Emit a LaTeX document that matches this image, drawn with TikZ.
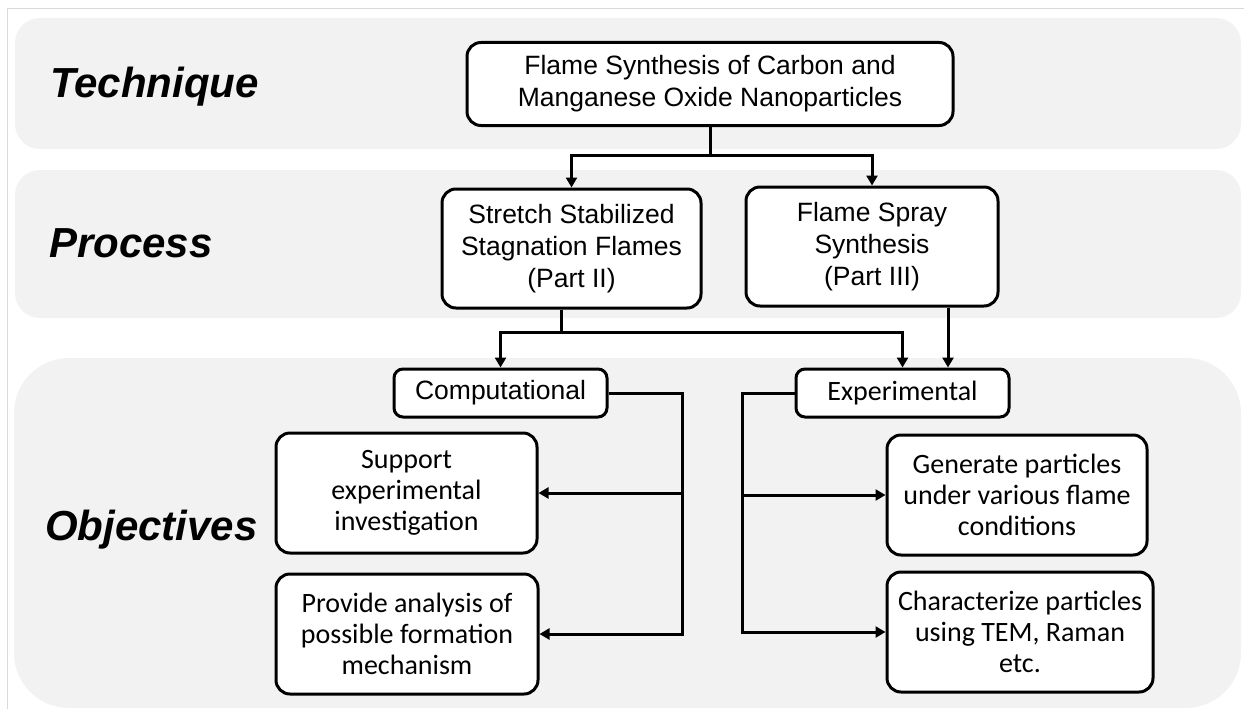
\documentclass[tikz,border=0pt]{standalone}
\usepackage{fontspec}
\setmainfont{Liberation Sans}
\newfontfamily\calibri{Carlito}
\usetikzlibrary{arrows.meta}
\definecolor{panelgray}{HTML}{F2F2F2}
\definecolor{framegray}{HTML}{D9D9D9}
\tikzset{
    stepbox/.style={draw, line width=3pt, fill=white, rounded corners=14pt,
        align=center, inner sep=0pt, font=\fontsize{26.5}{32}\selectfont},
    goalbox/.style={stepbox, font=\calibri\fontsize{28}{31}\selectfont},
    rowlabel/.style={anchor=base west, inner sep=0pt,
        font=\fontsize{42}{42}\selectfont\bfseries\itshape},
    link/.style={line width=3pt, -{Triangle[length=10pt,width=11pt]}}
}
\begin{document}
\begin{tikzpicture}[x=1pt,y=-1pt]
    \useasboundingbox (0,0) rectangle (1244,709);
    \draw[framegray, line width=1pt] (7,709) -- (7,9) -- (1244,9);

    % background bands
    \fill[panelgray, rounded corners=25pt] (15,18) rectangle (1241,149);
    \fill[panelgray, rounded corners=25pt] (15,170) rectangle (1241,318);
    \fill[panelgray, rounded corners=55pt] (14,358) rectangle (1241,708);

    \node[rowlabel] (technique) at (50,97) {Technique};
    \node[rowlabel] (process) at (49,257) {Process};
    \node[rowlabel] (objectives) at (45,540) {Objectives};

    \node[stepbox, minimum width=486, minimum height=83] (top) at (710,84)
        {Flame Synthesis of Carbon and\\Manganese Oxide Nanoparticles};
    \node[stepbox, minimum width=259, minimum height=119] (sssf) at (571.5,248.5)
        {Stretch Stabilized\\Stagnation Flames\\(Part II)};
    \node[stepbox, minimum width=252, minimum height=119] (fss) at (872,246.5)
        {Flame Spray\\Synthesis\\(Part III)};

    \node[stepbox, rounded corners=9pt, minimum width=213, minimum height=48] (comp) at (500.5,393)
        {Computational};
    \node[goalbox, rounded corners=9pt, minimum width=213, minimum height=48] (expt) at (902.5,393)
        {Experimental};

    \node[goalbox, minimum width=261, minimum height=120] (support) at (406.5,493)
        {Support\\experimental\\investigation};
    \node[goalbox, minimum width=262, minimum height=120] (provide) at (407,634)
        {Provide analysis of\\possible formation\\mechanism};
    \node[goalbox, minimum width=260, minimum height=120] (generate) at (1017,495)
        {Generate particles\\under various flame\\conditions};
    \node[goalbox, minimum width=266, minimum height=120] (charac) at (1020,632)
        {Characterize particles\\using TEM, Raman\\etc.};

    \coordinate (fork1) at (710,155);
    \coordinate (fork2) at (561,332);
    \coordinate (cbus) at (682,0);
    \coordinate (ebus) at (742,0);

    \draw[link] (top.south) -- (fork1) -| (sssf.north);
    \draw[link] (fork1) -| (fss.north);

    \draw[link] (sssf.south -| fork2) -- (fork2) -| (comp.north);
    \draw[link] (fork2) -| (expt.north);
    \draw[link] (fss.south -| 948,0) -- (expt.north -| 948,0);

    \draw[link] (comp.east) -| (cbus |- provide.east) -- (provide.east);
    \draw[link] (cbus |- support.east) -- (support.east);
    \draw[link] (expt.west) -| (ebus |- charac.west) -- (charac.west);
    \draw[link] (ebus |- generate.west) -- (generate.west);
\end{tikzpicture}
\end{document}
